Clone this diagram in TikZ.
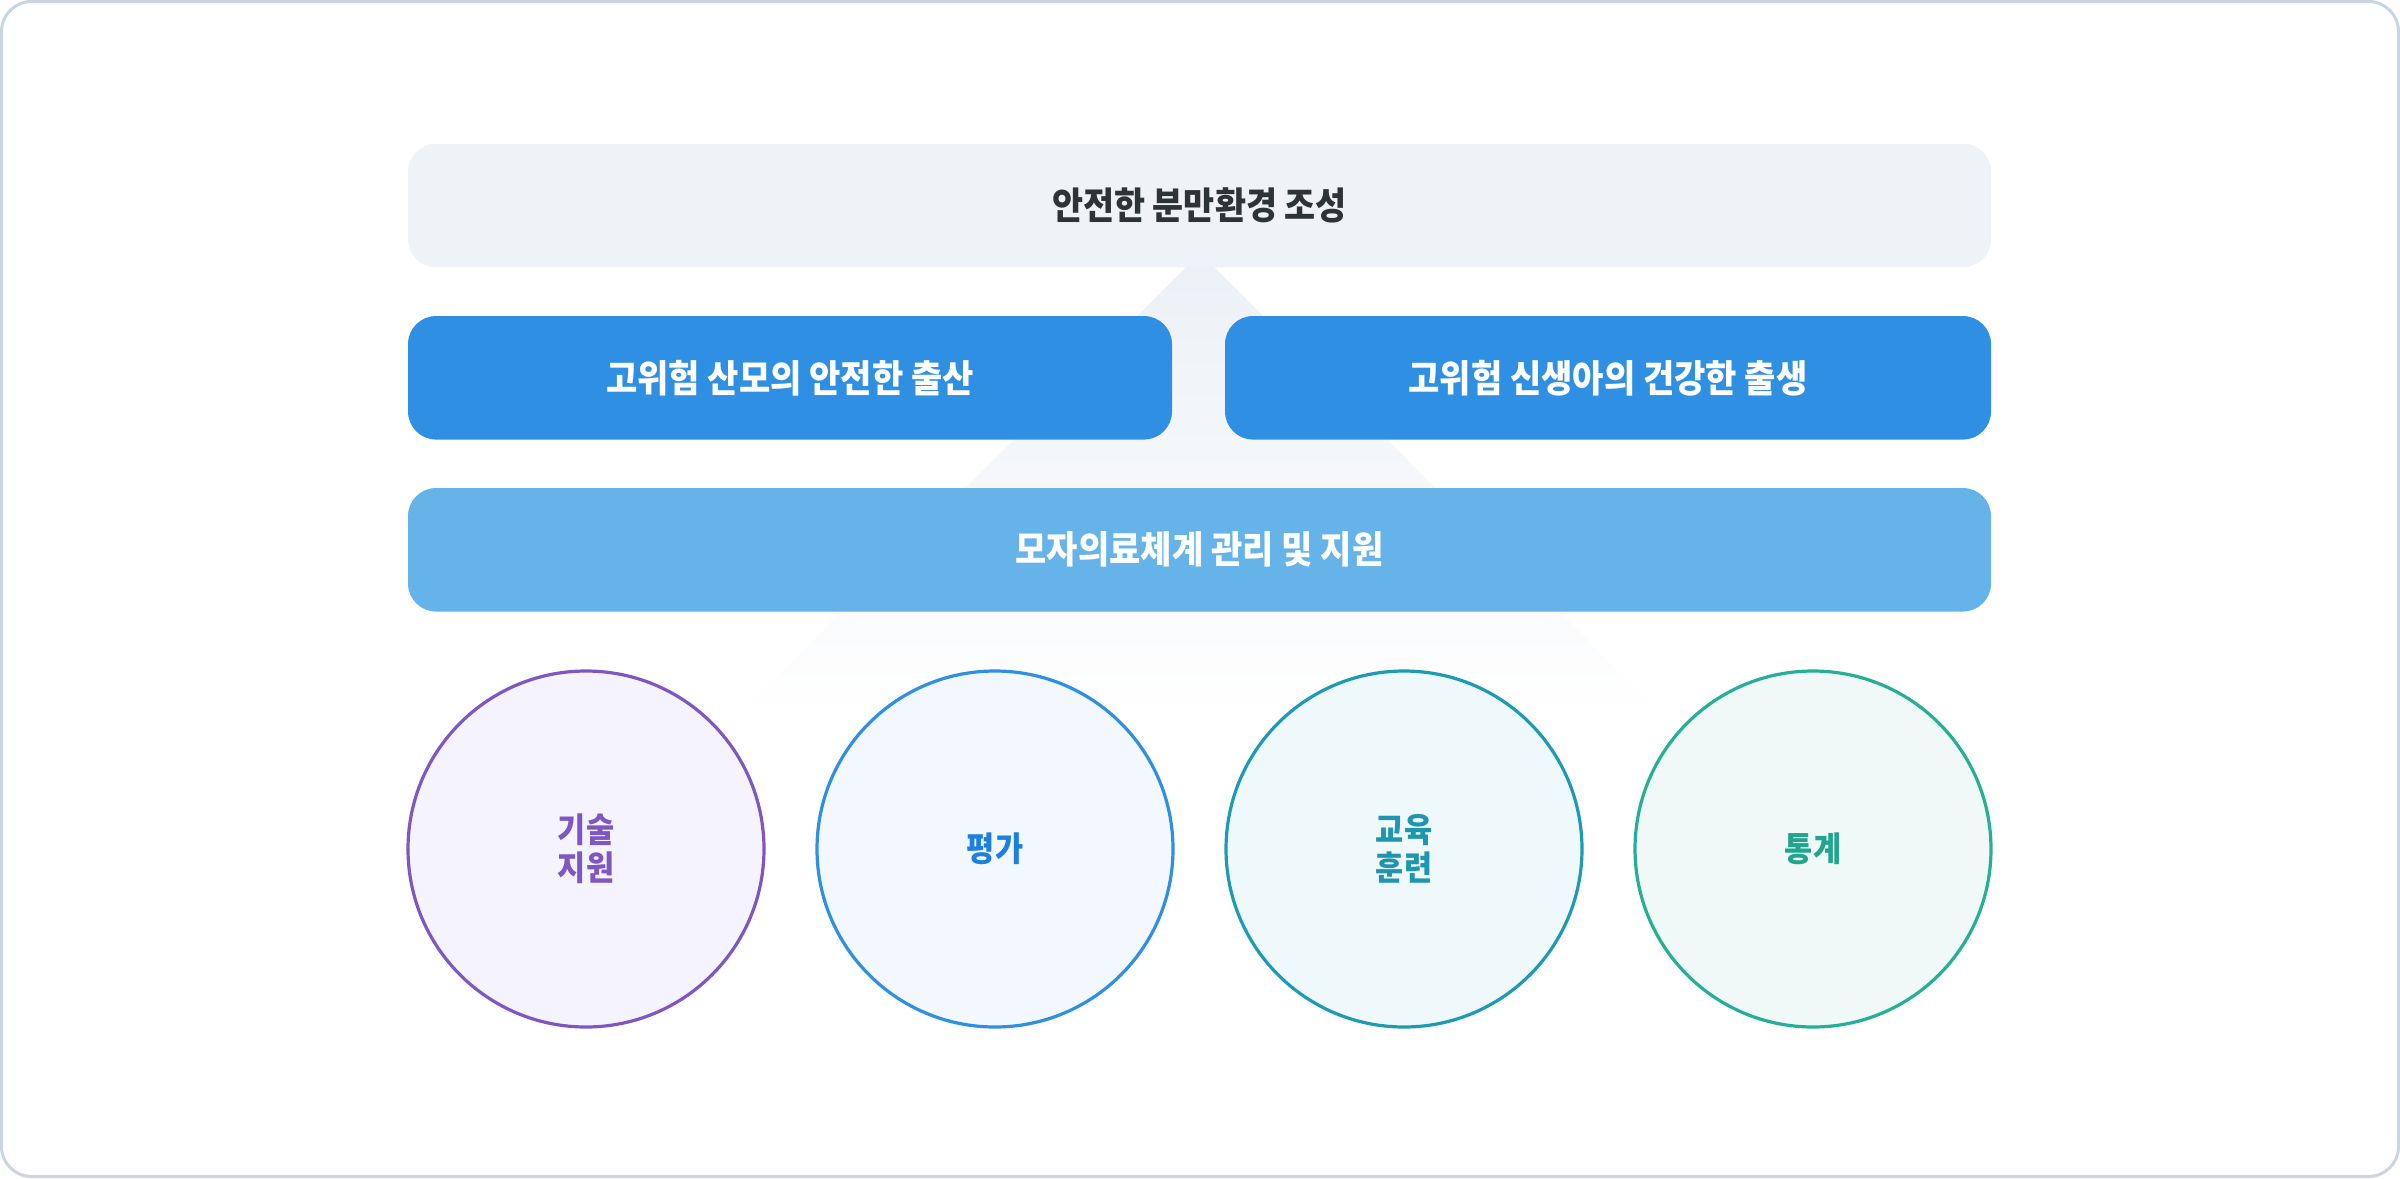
\documentclass[tikz,border=0pt]{standalone}
\usepackage{fontspec}
\newfontfamily\kr{Noto Sans CJK KR}[FakeStretch=0.9]
\definecolor{frameC}{HTML}{CBD5E1}
\definecolor{topFill}{HTML}{EFF3F8}
\definecolor{topText}{HTML}{2D3436}
\definecolor{midFill}{HTML}{2F90E3}
\definecolor{lowFill}{HTML}{66B3E9}
\definecolor{triTop}{HTML}{ECF0F6}
\definecolor{purS}{HTML}{7E57C2}
\definecolor{purF}{HTML}{F5F3FE}
\definecolor{bluS}{HTML}{2F8FE3}
\definecolor{bluF}{HTML}{F3F8FE}
\definecolor{bluT}{HTML}{1C7FE2}
\definecolor{tealS}{HTML}{1E9BB4}
\definecolor{tealF}{HTML}{EFF8FA}
\definecolor{tealT}{HTML}{1E96AE}
\definecolor{grnS}{HTML}{26AF97}
\definecolor{grnF}{HTML}{F0F9F7}
\definecolor{grnT}{HTML}{22A58E}
\tikzset{
  bar/.style={rectangle, rounded corners=28pt, draw=none, inner sep=0pt,
    minimum height=123.5pt},
  barText/.style={font=\kr\bfseries\fontsize{37.8}{44}\selectfont, text=white},
  pillar/.style={circle, line width=3.2pt, minimum size=356pt, inner sep=0pt,
    align=center, font=\kr\bfseries\fontsize{34}{38}\selectfont},
}
\begin{document}
\begin{tikzpicture}[x=1pt,y=-1pt]
\useasboundingbox (0,0) rectangle (2400,1178);
\fill[white] (0,0) rectangle (2400,1178);
\draw[frameC, line width=3pt, rounded corners=30pt] (1.5,1.5) rectangle (2398.5,1176.5);
% faded triangle behind
\shade[top color=triTop, bottom color=white, shading angle=0]
  (1200,253) -- (1667,720) -- (733,720) -- cycle;
% bars
\node[bar, fill=topFill, minimum width=1583pt, font=\kr\bfseries\fontsize{37.5}{44}\selectfont, text=topText]
  (goal) at (1199.5,205.5) {안전한 분만환경 조성};
\node[bar, barText, fill=midFill, minimum width=764pt] (mother) at (790,377.8) {고위험 산모의 안전한 출산};
\node[bar, barText, fill=midFill, minimum width=766pt] (baby) at (1608,377.8) {고위험 신생아의 건강한 출생};
\node[bar, barText, fill=lowFill, minimum width=1583pt] (system) at (1199.5,549.8) {모자의료체계 관리 및 지원};
% pillars
\node[pillar, draw=purS, fill=purF, text=purS] (tech) at (586,849) {기술\\지원};
\node[pillar, draw=bluS, fill=bluF, text=bluT] (eval) at (995,849) {평가};
\node[pillar, draw=tealS, fill=tealF, text=tealT] (edu) at (1404,849) {교육\\훈련};
\node[pillar, draw=grnS, fill=grnF, text=grnT] (stat) at (1813,849) {통계};
\end{tikzpicture}
\end{document}
